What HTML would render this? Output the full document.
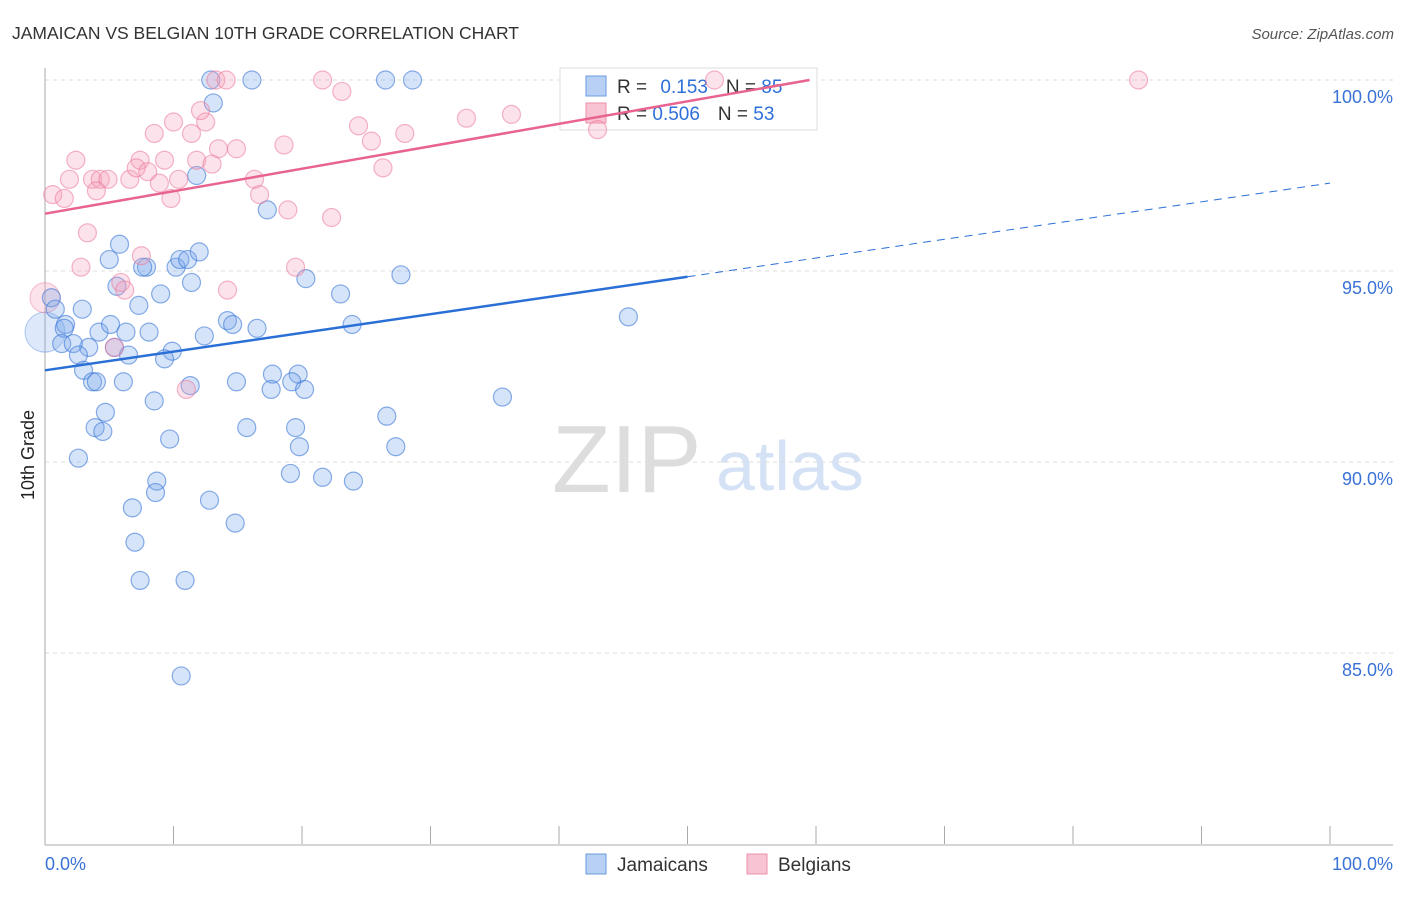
<!DOCTYPE html>
<html><head><meta charset="utf-8"><style>
body{margin:0;background:#fff;font-family:"Liberation Sans",sans-serif;}
svg text{font-family:"Liberation Sans",sans-serif;}
</style></head><body>
<svg id="chart" width="1406" height="892" xmlns="http://www.w3.org/2000/svg">
<text x="12" y="39" font-size="17.5" fill="#333">JAMAICAN VS BELGIAN 10TH GRADE CORRELATION CHART</text>
<text x="1394" y="39" font-size="15" fill="#555" font-style="italic" text-anchor="end">Source: ZipAtlas.com</text>
<text x="0" y="0" font-size="18" fill="#222" transform="translate(34,455) rotate(-90)" text-anchor="middle">10th Grade</text>
<g>
<text x="552" y="492" font-size="96" fill="#ddd" font-family="Liberation Serif, serif">ZIP</text>
<text x="716" y="490" font-size="70" fill="#d5e2f5">atlas</text>
</g>
<g id="grid"></g><g id="axes"></g>
<g>
<rect x="560" y="68" width="257" height="62" fill="#fff" stroke="#ddd"/>
<rect x="586" y="76" width="20" height="20" fill="#b7d0f3" stroke="#6a9de0"/>
<rect x="586" y="103" width="20" height="20" fill="#f8c3d2" stroke="#ec8fab"/>
<text x="617" y="93" font-size="19" fill="#333">R = <tspan fill="#2e6fd8" dx="8">0.153</tspan><tspan dx="18">N = </tspan><tspan fill="#2e6fd8">85</tspan></text>
<text x="617" y="120" font-size="19" fill="#333">R = <tspan fill="#2e6fd8">0.506</tspan><tspan dx="18">N = </tspan><tspan fill="#2e6fd8">53</tspan></text>
</g>
<g id="pts"></g><g id="lines"></g>
<g>
<rect x="586" y="854" width="20" height="20" fill="#b7d0f3" stroke="#6a9de0"/>
<text x="617" y="871" font-size="19" fill="#333">Jamaicans</text>
<rect x="747" y="854" width="20" height="20" fill="#f8c3d2" stroke="#ec8fab"/>
<text x="778" y="871" font-size="19" fill="#333">Belgians</text>
</g>
</svg>
<script>
const yTicks=[100,95,90,85];
const yTickLabels=["100.0%","95.0%","90.0%","85.0%"];
const blueX=[12.9,16.1,26.5,28.6,13.1,11.8,17.3,5.8,5.0,7.9,10.2,10.5,11.1,12.0,11.4,20.3,27.7,5.6,9.0,7.3,23.0,0.5,0.8,2.9,45.4,1.6,1.5,4.2,5.1,6.3,8.1,14.2,14.6,16.5,23.9,12.4,1.3,3.4,2.2,5.4,9.9,2.6,6.5,9.3,3.0,17.7,19.7,3.7,4.0,6.1,11.3,14.9,19.2,17.6,20.2,35.6,8.5,4.7,26.6,3.9,4.5,15.7,19.5,9.7,19.8,27.3,2.6,19.1,21.6,8.7,24.0,8.6,12.8,6.8,14.8,7.0,7.4,10.9,10.6,7.6];
const blueY=[100,100,100,100,99.4,97.5,96.6,95.7,95.3,95.1,95.1,95.3,95.3,95.5,94.7,94.8,94.9,94.6,94.4,94.1,94.4,94.3,94.0,94.0,93.8,93.6,93.5,93.4,93.6,93.4,93.4,93.7,93.6,93.5,93.6,93.3,93.1,93.0,93.1,93.0,92.9,92.8,92.8,92.7,92.4,92.3,92.3,92.1,92.1,92.1,92.0,92.1,92.1,91.9,91.9,91.7,91.6,91.3,91.2,90.9,90.8,90.9,90.9,90.6,90.4,90.4,90.1,89.7,89.6,89.5,89.5,89.2,89.0,88.8,88.4,87.9,86.9,86.9,84.4,95.1];
const pinkX=[13.3,14.1,21.6,23.1,32.8,36.3,7.4,2.4,0.6,1.5,1.9,3.7,4.3,4.9,6.6,4.0,7.1,8.0,8.9,9.3,9.8,10.4,10.0,11.4,11.8,12.5,12.1,13.0,13.5,14.9,16.3,16.7,18.6,18.9,22.3,24.4,25.4,26.3,28.0,8.5,3.3,2.8,7.5,5.9,6.2,5.4,14.2,19.5,11.0,43.0,52.1,85.1];
const pinkY=[100,100,100,99.7,99.0,99.1,97.9,97.9,97.0,96.9,97.4,97.4,97.4,97.4,97.4,97.1,97.7,97.6,97.3,97.9,96.9,97.4,98.9,98.6,97.9,98.9,99.2,97.8,98.2,98.2,97.4,97.0,98.3,96.6,96.4,98.8,98.4,97.7,98.6,98.6,96.0,95.1,95.4,94.7,94.5,93.0,94.5,95.1,91.9,98.7,100,100];
const blueTrend=[[0,92.4],[50,94.85],[100,97.3]];
const pinkTrend=[[0,96.5],[59.5,100]];
const NS="http://www.w3.org/2000/svg";
const X0=45,X1=1330,Y0=80,YB=844;
const sx=v=>X0+(X1-X0)*v/100;
const sy=v=>Y0+(100-v)*(YB-Y0)/20;
function mk(t,a,p){const e=document.createElementNS(NS,t);for(const k in a)e.setAttribute(k,a[k]);p.appendChild(e);return e;}
const grid=document.getElementById('grid'),axes=document.getElementById('axes'),pts=document.getElementById('pts'),lines=document.getElementById('lines');
yTicks.forEach((t,i)=>{
 const g=mk('line',{x1:X0,x2:1393,y1:sy(t),y2:sy(t),stroke:'#ddd','stroke-dasharray':'4,4'},grid);
 
 
 const l=mk('text',{x:1393,y:sy(t)+23,'font-size':18,fill:'#3a72d6','text-anchor':'end'},grid);
 l.textContent=yTickLabels[i];
 
 
});
const ax=mk('line',{x1:X0,x2:X0,y1:68,y2:YB+1,stroke:'#aaa'},axes);


const bx=mk('line',{x1:X0,x2:1393,y1:YB+1,y2:YB+1,stroke:'#aaa'},axes);


for(let i=0;i<=10;i++){
 const t=mk('line',{x1:sx(i*10),x2:sx(i*10),y1:826,y2:YB,stroke:'#aaa'},axes);
 
 
}
const xl0=mk('text',{x:45,y:870,'font-size':18,fill:'#3a72d6'},axes);xl0.textContent='0.0%';


const xl1=mk('text',{x:1393,y:870,'font-size':18,fill:'#3a72d6','text-anchor':'end'},axes);xl1.textContent='100.0%';


const bb=mk('circle',{cx:sx(0),cy:sy(93.4),r:20,fill:'rgba(120,165,235,0.25)',stroke:'rgba(70,130,220,0.4)'},pts);


const pb=mk('circle',{cx:sx(0),cy:sy(94.3),r:15,fill:'rgba(245,160,185,0.3)',stroke:'rgba(235,130,160,0.5)'},pts);


blueX.forEach((v,i)=>{
 const c=mk('circle',{cx:sx(v),cy:sy(blueY[i]),r:9,fill:'rgba(120,165,235,0.3)',stroke:'rgba(60,120,215,0.6)','stroke-width':1.2},pts);
 
 
});
pinkX.forEach((v,i)=>{
 const c=mk('circle',{cx:sx(v),cy:sy(pinkY[i]),r:9,fill:'rgba(245,160,185,0.3)',stroke:'rgba(235,120,155,0.55)','stroke-width':1.2},pts);
 
 
});
const b1=mk('line',{x1:sx(blueTrend[0][0]),y1:sy(blueTrend[0][1]),x2:sx(blueTrend[1][0]),y2:sy(blueTrend[1][1]),stroke:'#2a6fd6','stroke-width':2.5},lines);


const b2=mk('line',{x1:sx(blueTrend[1][0]),y1:sy(blueTrend[1][1]),x2:sx(blueTrend[2][0]),y2:sy(blueTrend[2][1]),stroke:'#2a6fd6','stroke-width':1,'stroke-dasharray':'8,6'},lines);


const p1=mk('line',{x1:sx(pinkTrend[0][0]),y1:sy(pinkTrend[0][1]),x2:sx(pinkTrend[1][0]),y2:sy(pinkTrend[1][1]),stroke:'#e8648e','stroke-width':2.5},lines);


</script>
</body></html>
